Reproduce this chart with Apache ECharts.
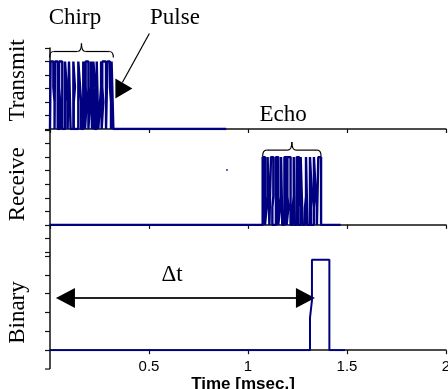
<!DOCTYPE html>
<html>
<head>
<meta charset="utf-8">
<style>
  html, body { margin: 0; padding: 0; background: #fff; }
  #chart { width: 448px; height: 389px; }
</style>
<script src="https://cdn.jsdelivr.net/npm/echarts@6/dist/echarts.min.js"></script>
</head>
<body>
<div id="chart"></div>
<script>
// time axis, msec.
const timeMin = 0;
const timeMax = 2;
const timeStep = 0.5;

// transmitted chirp: edge times of the pulse train (msec.), and where an edge
// is a sampled, bent one, how far its lower half is shifted
const txEdges = [0.003, 0.017, 0.025, 0.039, 0.051, 0.062, 0.076, 0.084, 0.096, 0.104, 0.118, 0.126,
  0.143, 0.152, 0.168, 0.177, 0.185, 0.194, 0.202, 0.212, 0.219, 0.229, 0.236, 0.244,
  0.253, 0.261, 0.269, 0.283, 0.290, 0.303, 0.311, 0.320];
const txBend = [0, 0.006, 0, 0, -0.005, 0, 0, 0.005, 0, 0, 0, -0.006,
  0, 0.005, 0, 0, -0.005, 0, 0.005, 0, 0, -0.005, 0, 0,
  0.005, 0, -0.005, 0, 0, 0.005, 0, 0];
const txHigh = 5;
const txMid = [3.1, 2.0];
const txEnd = 0.89;

// received echo
const rxEdges = [1.074, 1.086, 1.094, 1.108, 1.116, 1.128, 1.141, 1.153, 1.162, 1.173, 1.184, 1.195,
  1.204, 1.215, 1.226, 1.234, 1.246, 1.258, 1.266, 1.276, 1.288, 1.300, 1.313, 1.323,
  1.333, 1.343, 1.355, 1.369];
const rxBend = [0, 0, 0.005, 0, 0, -0.005, 0, 0, 0.005, 0, 0, 0,
  -0.005, 0, 0.005, 0, 0, -0.005, 0, 0, 0.005, 0, 0, -0.005,
  0, 0.005, 0, 0];
const rxHigh = 5;
const rxMid = [2.1, 1.3];
const rxEnd = 1.468;
const rxStray = [[0.894, 4.05]];

// binary (detected) output
const binT = [0, 1.313, 1.313, 1.323, 1.323, 1.411, 1.411, 1.49];
const binV = [0, 0, 1.7, 2.65, 4.8, 4.8, 0, 0];

const navy = "#000080";
const ink = "#111";
const serif = "Liberation Serif";

// turn a list of edges into the points of the pulse train
function pulseTrain(edges, bends, high, mids, end) {
  const pts = [[0, 0]];
  let level = 0;
  edges.forEach((t, i) => {
    const next = level ? 0 : high;
    const b = bends[i];
    if (b) {
      const [a, c] = level ? mids : [mids[1], mids[0]];
      pts.push([t, level], [t, a], [t + b, c], [t + b, next]);
    } else {
      pts.push([t, level], [t, next]);
    }
    level = next;
  });
  pts.push([end, 0]);
  return pts;
}

const chart = echarts.init(document.getElementById("chart"), null, { renderer: "canvas" });

const grids = [
  { left: 50, right: 2, top: 48, height: 81 },
  { left: 50, right: 2, top: 130, height: 122 },
  { left: 50, right: 2, top: 256, height: 94.2 },
].map((g) => ({ ...g, containLabel: false, outerBoundsMode: "none" }));

const yRanges = [[0, 6], [-2, 7], [0, 5]];

const xAxes = grids.map((g, i) => ({
  gridIndex: i,
  type: "value",
  min: timeMin,
  max: timeMax,
  interval: timeStep,
  axisLine: { show: true, onZero: true, lineStyle: { color: ink, width: 1.5 } },
  axisTick: { show: true, length: 4, lineStyle: { color: ink, width: 1.2 } },
  splitLine: { show: false },
  axisLabel: {
    show: i === 2,
    showMinLabel: false,
    color: "#000",
    fontFamily: "Liberation Sans",
    fontSize: 15,
    margin: 9,
  },
  name: i === 2 ? "Time [msec.]" : "",
  nameLocation: "middle",
  nameGap: 26,
  nameMoveOverlap: false,
  nameTextStyle: {
    color: "#000",
    fontFamily: "Liberation Sans",
    fontWeight: "bold",
    fontSize: 17,
    padding: [0, 10, 0, 0],
  },
}));

const yAxes = yRanges.map(([lo, hi], i) => ({
  gridIndex: i,
  type: "value",
  min: lo,
  max: hi,
  interval: 1,
  axisLine: { show: true, onZero: false, lineStyle: { color: ink, width: 1.5 } },
  axisTick: { show: true, length: 5, lineStyle: { color: ink, width: 1.2 } },
  axisLabel: { show: false },
  splitLine: { show: false },
}));

chart.setOption({
  animation: false,
  backgroundColor: "#fff",
  grid: grids,
  xAxis: xAxes,
  yAxis: yAxes,
  series: [
    {
      name: "Transmit",
      type: "line",
      xAxisIndex: 0,
      yAxisIndex: 0,
      showSymbol: false,
      lineStyle: { color: navy, width: 2.4 },
      data: pulseTrain(txEdges, txBend, txHigh, txMid, txEnd),
    },
    {
      name: "Receive",
      type: "line",
      xAxisIndex: 1,
      yAxisIndex: 1,
      showSymbol: false,
      lineStyle: { color: navy, width: 2.4 },
      data: pulseTrain(rxEdges, rxBend, rxHigh, rxMid, rxEnd),
    },
    {
      name: "stray",
      type: "scatter",
      xAxisIndex: 1,
      yAxisIndex: 1,
      symbolSize: 2,
      itemStyle: { color: navy },
      data: rxStray,
    },
    {
      name: "Binary",
      type: "line",
      xAxisIndex: 2,
      yAxisIndex: 2,
      showSymbol: false,
      lineStyle: { color: navy, width: 2 },
      data: binT.map((t, i) => [t, binV[i]]),
    },
  ],
});

// annotations, anchored on the data coordinates of each panel
const px = (g, t, v) => chart.convertToPixel({ gridIndex: g }, [t, v]);
const stroke = { stroke: "#000", fill: null, lineWidth: 1.2 };

function curve(xa, ya, cx, cy, xb, yb) {
  return { type: "bezierCurve", shape: { x1: xa, y1: ya, cpx1: cx, cpy1: cy, x2: xb, y2: yb }, style: stroke };
}
function seg(xa, ya, xb, yb, style) {
  return { type: "line", shape: { x1: xa, y1: ya, x2: xb, y2: yb }, style: style || stroke };
}

function brace(x0, x1, yEnd) {
  const yBar = yEnd - 6;
  const yTip = yBar - 8;
  const xm = (x0 + x1) / 2;
  const r = 4;
  return {
    type: "group",
    children: [
      curve(x0, yEnd, x0, yBar, x0 + r, yBar),
      seg(x0 + r, yBar, xm - r, yBar),
      curve(xm - r, yBar, xm, yBar, xm, yTip),
      curve(xm, yTip, xm, yBar, xm + r, yBar),
      seg(xm + r, yBar, x1 - r, yBar),
      curve(x1 - r, yBar, x1, yBar, x1, yEnd),
    ],
  };
}

function label(text, [x, y], rotate) {
  return {
    type: "text",
    x,
    y,
    rotation: rotate ? Math.PI / 2 : 0,
    style: { text, fill: "#000", font: `23px "${serif}"`, align: "center", verticalAlign: "middle" },
  };
}

function head(tip, dir) {
  const [x, y] = tip;
  return {
    type: "polygon",
    shape: { points: [[x, y], [x + dir * 19, y - 10], [x + dir * 19, y + 10]] },
    style: { fill: "#000" },
  };
}

const chirpL = px(0, txEdges[0], txHigh);
const chirpR = px(0, txEdges[txEdges.length - 1], txHigh);
const echoL = px(1, rxEdges[0], rxHigh);
const echoR = px(1, rxEdges[rxEdges.length - 1], rxHigh);
const pulseAt = px(0, 0.32, 3);
const dtL = px(2, 0.03, 2.77);
const dtR = px(2, 1.338, 2.77);
const gapTop = px(1, 0, -2);
const gapBot = px(2, 0, 5);
const axisEnd = px(2, 0, -1);
const axisZero = px(2, 0, 0);
const axisStyle = { stroke: ink, lineWidth: 1.5 };

chart.setOption({
  graphic: [
    brace(chirpL[0] - 1, chirpR[0], chirpL[1] - 4),
    brace(echoL[0], echoR[0], echoL[1] - 1),
    // left axis continues between the panels and below the binary baseline
    seg(gapTop[0], gapTop[1], gapBot[0], gapBot[1], axisStyle),
    seg(axisZero[0], axisZero[1], axisEnd[0], axisEnd[1], axisStyle),
    seg(axisEnd[0] - 5, axisEnd[1], axisEnd[0], axisEnd[1], { stroke: ink, lineWidth: 1.2 }),
    // Pulse arrow
    seg(pulseAt[0] + 36, pulseAt[1] - 55, pulseAt[0] + 9, pulseAt[1] - 6),
    {
      type: "polygon",
      shape: { points: [[pulseAt[0] + 2, pulseAt[1] - 10], [pulseAt[0] + 2, pulseAt[1] + 10], [pulseAt[0] + 19, pulseAt[1]]] },
      style: { fill: "#000" },
    },
    // delta t arrow
    seg(dtL[0] + 18, dtL[1], dtR[0] - 18, dtR[1], { stroke: "#222", lineWidth: 2 }),
    head(dtL, 1),
    head(dtR, -1),
    label("Chirp", px(0, 0.126, 8.2)),
    label("Pulse", px(0, 0.631, 8.2)),
    label("Echo", px(1, 1.177, 8.1)),
    label("\u0394t", px(2, 0.616, 4.0)),
    label("Transmit", [18, px(0, 0, 3.6)[1]], true),
    label("Receive", [18, px(1, 0, 3.0)[1]], true),
    label("Binary", [18, px(2, 0, 2.0)[1]], true),
  ],
});
</script>
</body>
</html>
